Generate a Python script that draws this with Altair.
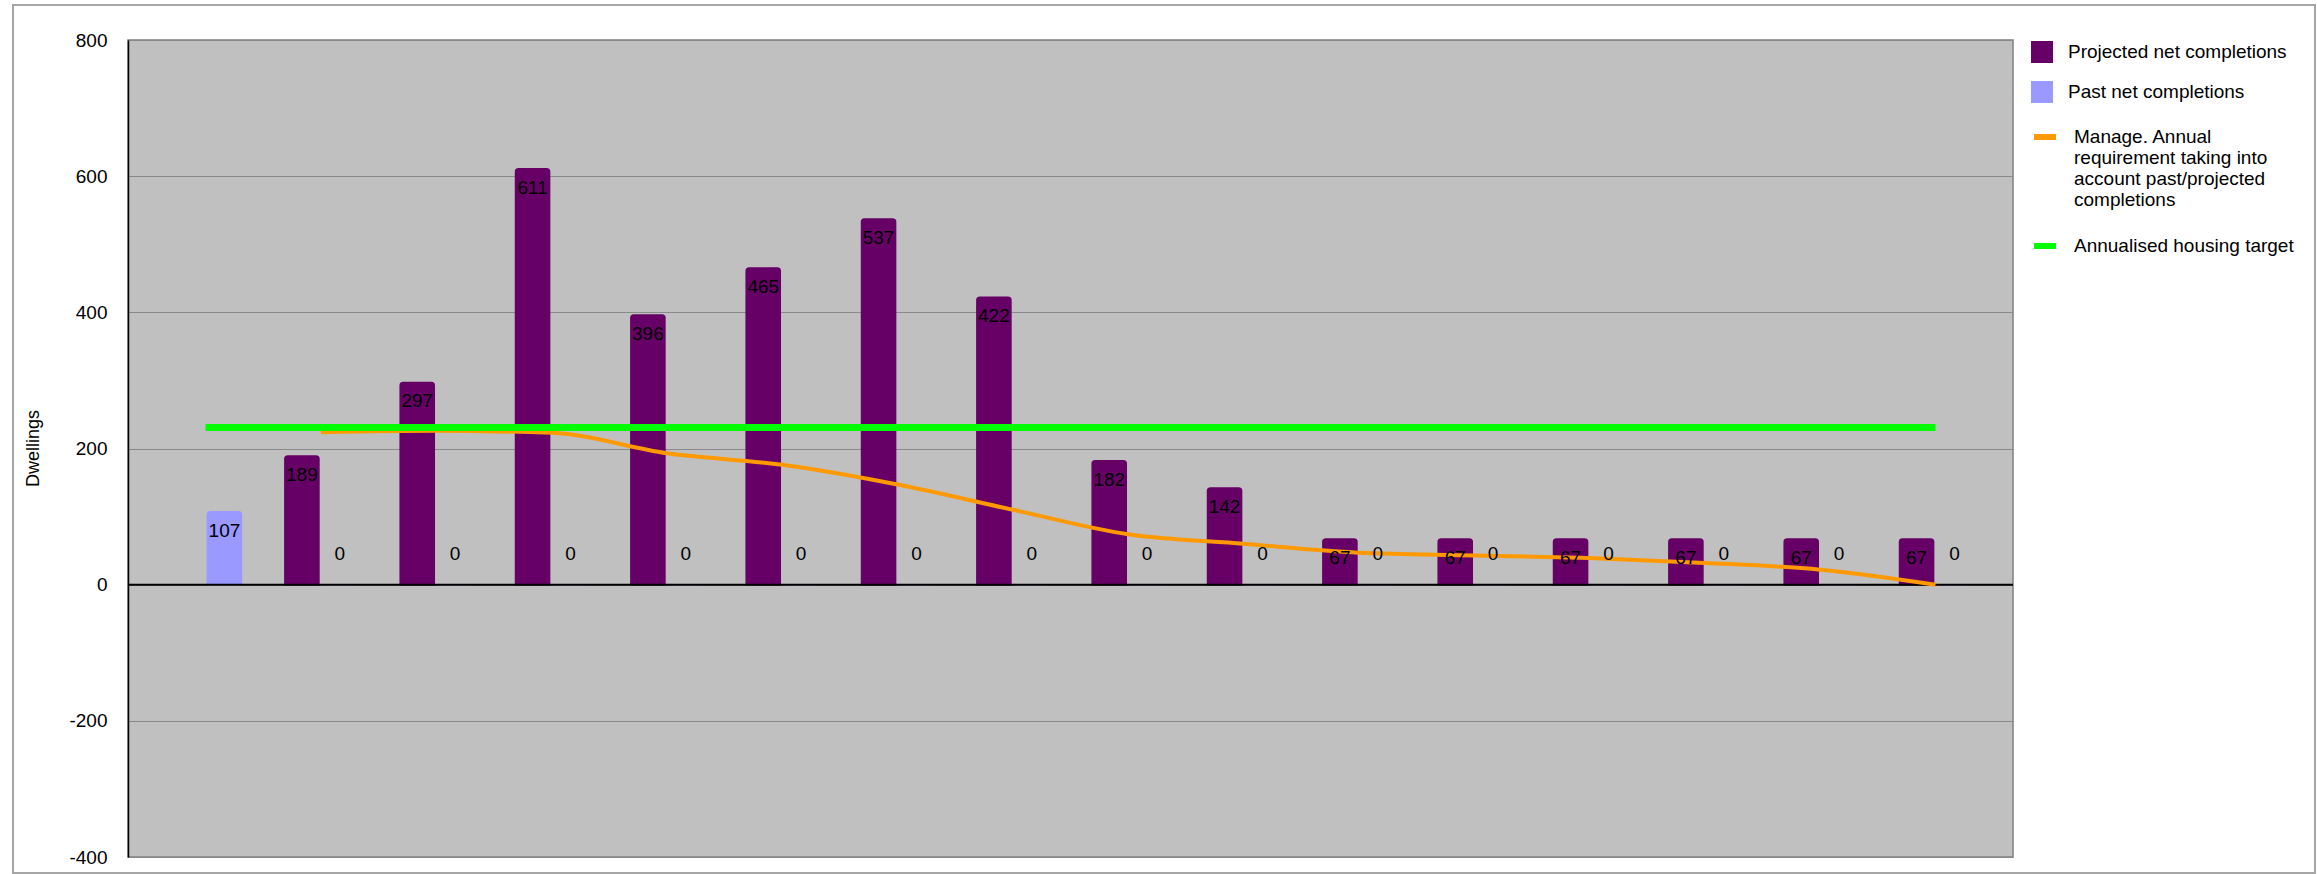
import altair as alt
import pandas as pd

# ---------------- data ----------------
cats = ["Y1", "Y2", "Y3", "Y4", "Y5", "Y6", "Y7", "Y8",
        "Y9", "Y10", "Y11", "Y12", "Y13", "Y14", "Y15", "Y16"]

projected = [None, 189, 297, 611, 396, 465, 537, 422, 182, 142, 67, 67, 67, 67, 67, 67]
past = [107, 0, 0, 0, 0, 0, 0, 0, 0, 0, 0, 0, 0, 0, 0, 0]
manage = [None, 224, 226, 223, 193, 176, 147, 110, 74, 60, 47, 43, 39, 32, 22, 0]
target = [231, 231, 231, 231, 231, 231, 231, 231, 231, 231, 231, 231, 231, 231, 231, 231]

PROJ = "Projected net completions"
PAST = "Past net completions"
MAN = "Manage. Annual requirement taking into account past/projected completions"
TGT = "Annualised housing target"

y_ticks = [-400, -200, 0, 200, 400, 600, 800]

# ---------------- tables ----------------
bar_rows = []
for c, p, q in zip(cats, projected, past):
    if p is not None:
        bar_rows.append({"cat": c, "bar_series": PROJ, "value": p})
    if q is not None:
        bar_rows.append({"cat": c, "bar_series": PAST, "value": q})
bars_df = pd.DataFrame(bar_rows)

man_df = pd.DataFrame([{"cat": c, "line_series": MAN, "value": v}
                       for c, v in zip(cats, manage) if v is not None])
tgt_df = pd.DataFrame([{"cat": c, "line_series": TGT, "value": v}
                       for c, v in zip(cats, target)])

FONT = "Liberation Sans"

xscale = alt.Scale(domain=cats, paddingInner=0.376, paddingOuter=0.36)
yscale = alt.Scale(domain=[-400, 800], nice=False, zero=False)
off_scale = alt.Scale(domain=[PROJ, PAST], paddingInner=0.1)

x_enc = alt.X("cat:N", scale=xscale, axis=None, sort=cats)
y_enc = alt.Y("value:Q", scale=yscale, title="Dwellings",
              axis=alt.Axis(values=y_ticks, grid=True, titleX=-95, titleY=408,
                            titleAngle=270, titleAlign="center",
                            titleBaseline="middle",
                            labelExpr="'' + datum.value"))
off_enc = alt.XOffset("bar_series:N", scale=off_scale, sort=[PROJ, PAST])

border = alt.Chart(pd.DataFrame({"a": [0]})).mark_rect(
    fillOpacity=0, stroke="#A6A6A6", strokeWidth=2
).encode(x=alt.value(-115), x2=alt.value(2187), y=alt.value(-35), y2=alt.value(833))

bars = alt.Chart(bars_df).mark_bar(
    cornerRadiusTopLeft=3, cornerRadiusTopRight=3, strokeWidth=1.5
).encode(
    x=x_enc,
    xOffset=off_enc,
    y=y_enc,
    color=alt.Color("bar_series:N", title=None,
                    scale=alt.Scale(domain=[PROJ, PAST], range=["#660066", "#9999FF"]),
                    legend=alt.Legend(orient="none", legendX=1903, legendY=1,
                                      symbolType="square", symbolSize=484,
                                      symbolStrokeWidth=0,
                                      labelFontSize=19, labelFont=FONT, labelColor="black",
                                      labelOffset=15, rowPadding=18, padding=0,
                                      labelLimit=400)),
    stroke=alt.condition(f"datum.bar_series == '{PAST}'",
                         alt.value("#9999FF"), alt.value("#660066")),
)

zero_rule = alt.Chart(pd.DataFrame({"value": [0]})).mark_rule(
    color="black", strokeWidth=2
).encode(y=alt.Y("value:Q", scale=yscale, title="Dwellings"))

label_expr = ("datum.label == '" + MAN + "' ? ['Manage. Annual', 'requirement taking into', "
              "'account past/projected', 'completions'] : datum.label")

stroke_enc = alt.Stroke("line_series:N", title=None,
                        scale=alt.Scale(domain=[MAN, TGT], range=["#FF9900", "#00FF00"]),
                        legend=alt.Legend(orient="none", legendX=1903, legendY=83,
                                          symbolType="stroke", symbolSize=484,
                                          symbolStrokeWidth=6,
                                          labelFontSize=19, labelFont=FONT, labelColor="black",
                                          labelOffset=15, rowPadding=22, padding=0,
                                          labelLimit=400, labelExpr=label_expr))

x_line = alt.X("cat:N", scale=xscale, axis=None, sort=cats, bandPosition=0.5)
y_line = alt.Y("value:Q", scale=yscale, title="Dwellings")

man_line = alt.Chart(man_df).mark_line(interpolate="monotone", strokeWidth=4).encode(
    x=x_line, y=y_line, stroke=stroke_enc)
tgt_line = alt.Chart(tgt_df).mark_line(strokeWidth=7).encode(
    x=x_line, y=y_line, stroke=stroke_enc)

lab_pos = alt.Chart(bars_df).transform_filter("datum.value > 0").mark_text(
    dy=19, fontSize=19, font=FONT, baseline="middle", align="center", color="black"
).encode(x=x_enc, xOffset=off_enc, y=y_line, text=alt.Text("value:Q"))

lab_zero = alt.Chart(bars_df).transform_filter("datum.value == 0").mark_text(
    dy=-31, fontSize=19, font=FONT, baseline="middle", align="center", color="black"
).encode(x=x_enc, xOffset=off_enc, y=y_line, text=alt.Text("value:Q"))

chart = alt.layer(border, bars, zero_rule, man_line, tgt_line, lab_pos, lab_zero).properties(
    width=1885, height=817,
    padding={"left": 128, "top": 40, "right": 304, "bottom": 17},
    autosize=alt.AutoSizeParams(type="none"),
    background="white",
).configure_view(
    fill="#C0C0C0", stroke="#808080", strokeWidth=1.5
).configure_axisY(
    gridColor="#8A8A8A", gridWidth=1, gridOpacity=1,
    domainColor="black", domainWidth=1.5,
    ticks=False, labelFontSize=19, labelFont=FONT, labelColor="black",
    labelPadding=21, titleFontSize=18, titleFont=FONT, titleFontWeight="normal",
    titleColor="black"
)

chart.save("out.html", embed_options={"renderer": "svg", "actions": False})
